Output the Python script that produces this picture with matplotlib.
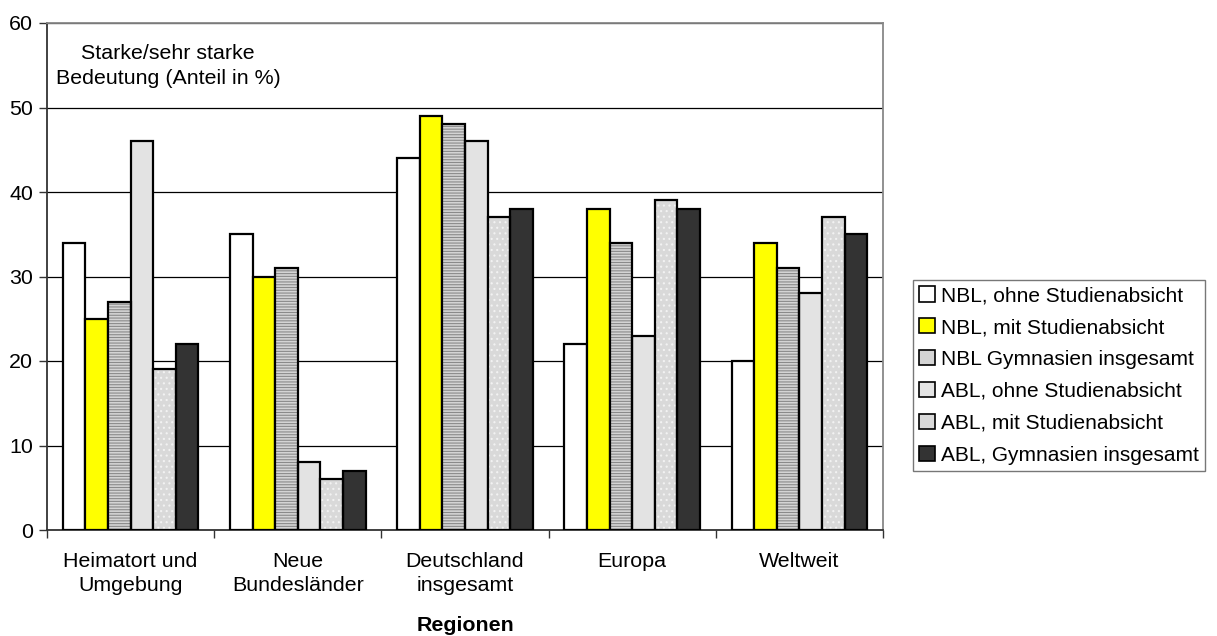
import matplotlib
matplotlib.use("Agg")
import matplotlib.pyplot as plt
import numpy as np
from matplotlib.patches import Patch

plt.rcParams['font.family'] = ['Liberation Sans', 'DejaVu Sans']

categories = ["Heimatort und\nUmgebung", "Neue\nBundesländer", "Deutschland\ninsgesamt", "Europa", "Weltweit"]
series_names = ["NBL, ohne Studienabsicht", "NBL, mit Studienabsicht", "NBL Gymnasien insgesamt",
                "ABL, ohne Studienabsicht", "ABL, mit Studienabsicht", "ABL, Gymnasien insgesamt"]
nbl_ohne = [34, 35, 44, 22, 20]
nbl_mit = [25, 30, 49, 38, 34]
nbl_gym = [27, 31, 48, 34, 31]
abl_ohne = [46, 8, 46, 23, 28]
abl_mit = [19, 6, 37, 39, 37]
abl_gym = [22, 7, 38, 38, 35]
series = [nbl_ohne, nbl_mit, nbl_gym, abl_ohne, abl_mit, abl_gym]

faces = ['white', '#ffff00', '#d4d4d4', '#e3e3e3', '#d9d9d9', '#333333']
hatches = [None, None, '------', None, '...', None]
hatch_cols = [None, None, '#8a8a8a', None, '#f2f2f2', None]

plt.rcParams['hatch.linewidth'] = 0.8
FS = 15.4

fig = plt.figure(figsize=(12.17, 6.36), dpi=100)
ax = fig.add_axes([47/1217, 106/636, (883-47)/1217, (530-23)/636])

x = np.arange(len(categories))
w = 0.135
offsets = (np.arange(6) - 2.5) * w
handles = []
for i, vals in enumerate(series):
    if hatches[i]:
        ax.bar(x + offsets[i], vals, w, facecolor=faces[i], edgecolor=hatch_cols[i],
               hatch=hatches[i], linewidth=0, zorder=3)
        ax.bar(x + offsets[i], vals, w, facecolor='none', edgecolor='black', linewidth=1.6, zorder=4)
    else:
        ax.bar(x + offsets[i], vals, w, facecolor=faces[i], edgecolor='black', linewidth=1.6, zorder=3)
    handles.append(Patch(facecolor=faces[i], edgecolor='black', linewidth=1.2))

ax.set_xlim(-0.5, len(categories) - 0.5)
ax.set_ylim(0, 60)
ax.set_yticks(np.arange(0, 61, 10))
ax.grid(axis='y', color='black', linewidth=0.9, zorder=0)
ax.set_axisbelow(True)

ax.set_xticks(x)
ax.set_xticklabels(categories, fontsize=FS, linespacing=1.3)
ax.set_xticks(np.arange(-0.5, len(categories)), minor=True)
ax.tick_params(axis='x', which='major', length=0, pad=16)
ax.tick_params(axis='x', which='minor', length=6, width=1, color='#333333')
ax.tick_params(axis='y', length=6, width=1, color='#333333', labelsize=FS, pad=4)

for s in ['left', 'bottom']:
    ax.spines[s].set_color('#333333')
    ax.spines[s].set_linewidth(1.3)
for s in ['top', 'right']:
    ax.spines[s].set_color('#888888')
    ax.spines[s].set_linewidth(1.3)

fig.text(168/1217, 1 - 66/636, "Starke/sehr starke\nBedeutung (Anteil in %)", ha='center', va='center',
         fontsize=FS, linespacing=1.4)

ax.set_xlabel("Regionen", fontsize=FS, fontweight='bold', labelpad=15)

leg = fig.legend(handles, series_names, loc='center', bbox_to_anchor=(1059/1217, 1 - 375.5/636),
                 fontsize=15, frameon=True, fancybox=False, edgecolor='#555555',
                 handlelength=0.75, handleheight=0.75, handletextpad=0.3, labelspacing=0.62,
                 borderpad=0.3, borderaxespad=0)
leg.get_frame().set_linewidth(1.0)

fig.savefig("out.png", dpi=100)
